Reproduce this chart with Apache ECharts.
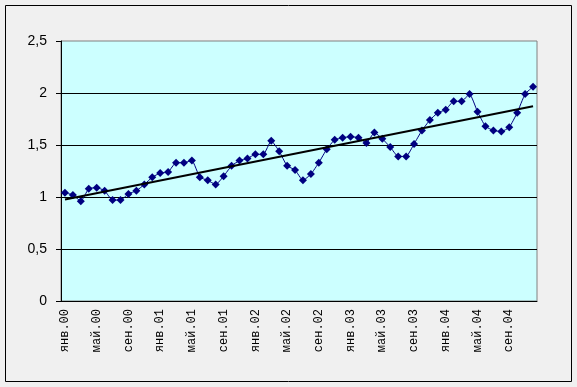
<!DOCTYPE html>
<html lang="ru">
<head>
  <meta charset="UTF-8">
  <title>chart</title>
  <script src="https://cdn.jsdelivr.net/npm/echarts@6/dist/echarts.min.js"></script>
</head>
<body style="margin: 0; background: #f0f0f0">
<div id="container" style="width: 577px; height: 387px"></div>
<script type="text/javascript">
  // подписи месяцев и годы
  var months = ['янв', 'фев', 'мар', 'апр', 'май', 'июн', 'июл', 'авг', 'сен', 'окт', 'ноя', 'дек'];
  var years = ['00', '01', '02', '03', '04'];

  // значения ряда (по месяцам, янв.00 - дек.04)
  var values2000 = [1.04, 1.02, 0.96, 1.08, 1.09, 1.06, 0.97, 0.97, 1.03, 1.06, 1.12, 1.19];
  var values2001 = [1.23, 1.24, 1.33, 1.33, 1.35, 1.19, 1.16, 1.12, 1.20, 1.30, 1.35, 1.37];
  var values2002 = [1.41, 1.41, 1.54, 1.44, 1.30, 1.26, 1.16, 1.22, 1.33, 1.46, 1.55, 1.57];
  var values2003 = [1.58, 1.57, 1.52, 1.62, 1.56, 1.48, 1.39, 1.39, 1.51, 1.64, 1.74, 1.81];
  var values2004 = [1.84, 1.92, 1.92, 1.99, 1.82, 1.68, 1.64, 1.63, 1.67, 1.81, 1.99, 2.06];

  // линия тренда: значения в начале и в конце
  var trendEnds = [0.975, 1.873];

  var yTicks = [0, 0.5, 1, 1.5, 2, 2.5];

  var categories = [];
  years.forEach(function (y) {
    months.forEach(function (m) { categories.push(m + '.' + y); });
  });
  var values = [].concat(values2000, values2001, values2002, values2003, values2004);
  var trend = categories.map(function (c, i) {
    if (i === 0) return trendEnds[0];
    if (i === categories.length - 1) return trendEnds[1];
    return null;
  });

  var myChart = echarts.init(document.getElementById('container'), null, { renderer: 'canvas' });

  var option = {
    animation: false,
    backgroundColor: '#f0f0f0',
    graphic: [{
      type: 'rect',
      shape: { x: 5.5, y: 5.5, width: 566, height: 376 },
      style: { fill: null, stroke: '#000', lineWidth: 1 },
      z: 100
    }],
    grid: {
      left: 61, top: 41, right: 40, bottom: 86,
      show: true,
      backgroundColor: '#ccffff',
      borderColor: '#808080',
      borderWidth: 1
    },
    xAxis: {
      type: 'category',
      data: categories,
      boundaryGap: true,
      axisLine: { lineStyle: { color: '#000', width: 1 } },
      axisTick: { interval: 3, length: 5, lineStyle: { color: '#000' } },
      axisLabel: {
        interval: 3,
        rotate: 90,
        margin: 8,
        color: '#000',
        fontFamily: 'Liberation Mono',
        fontSize: 12
      },
      splitLine: { show: false }
    },
    yAxis: {
      type: 'value',
      min: yTicks[0],
      max: yTicks[yTicks.length - 1],
      interval: 0.5,
      axisLine: { show: true, lineStyle: { color: '#000', width: 1 } },
      axisTick: { show: true, length: 5, lineStyle: { color: '#000' } },
      axisLabel: {
        margin: 14,
        color: '#000',
        fontFamily: 'Liberation Sans',
        fontSize: 14,
        formatter: function (v) { return String(v).replace('.', ','); }
      },
      splitLine: { show: true, showMaxLine: false, lineStyle: { color: '#000', width: 1 } }
    },
    series: [
      {
        name: 'ряд',
        type: 'line',
        data: values,
        smooth: 0.15,
        showAllSymbol: true,
        symbol: 'diamond',
        symbolSize: 8,
        lineStyle: { color: '#000080', width: 1 },
        itemStyle: { color: '#000080' },
        z: 3
      },
      {
        name: 'тренд',
        type: 'line',
        data: trend,
        connectNulls: true,
        showSymbol: false,
        symbol: 'none',
        lineStyle: { color: '#000', width: 2 },
        z: 4
      }
    ]
  };
  myChart.setOption(option);
</script>
</body>
</html>
